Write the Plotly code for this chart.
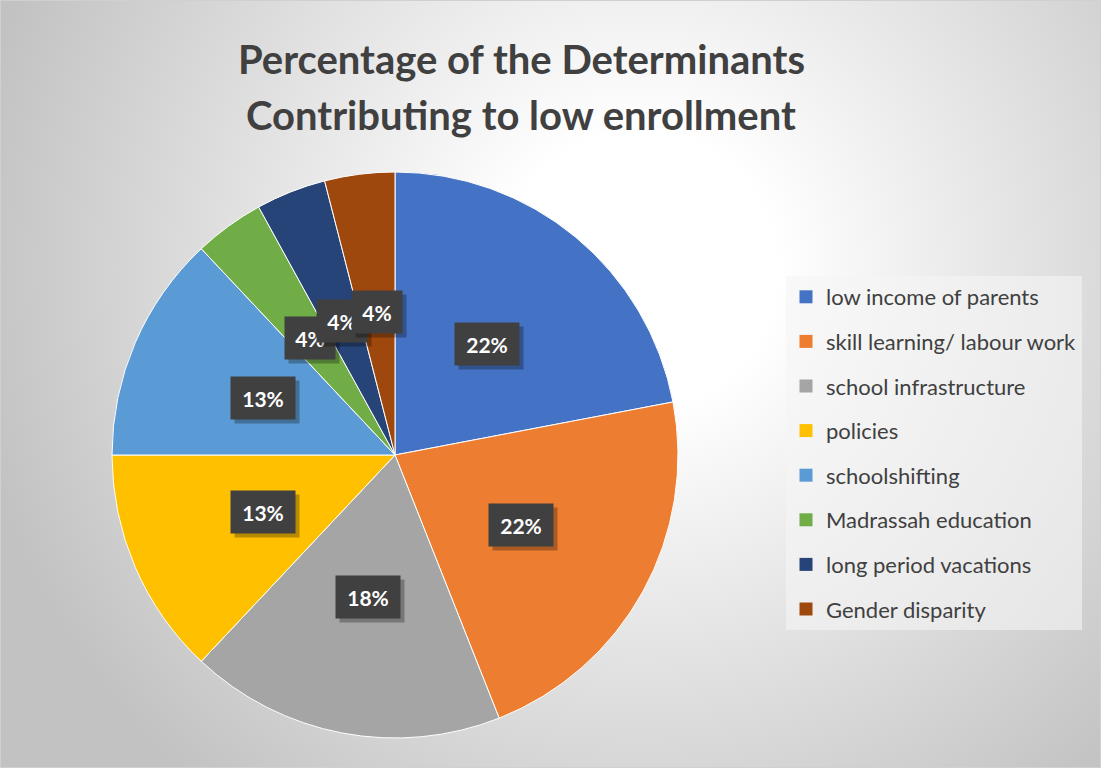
import math, base64
import plotly.graph_objects as go

labels = ["low income of parents", "skill learning/ labour work", "school infrastructure",
          "policies", "schoolshifting", "Madrassah education", "long period vacations",
          "Gender disparity"]
values = [22, 22, 18, 13, 13, 4, 4, 4]
colors = ["#4472C4", "#ED7D31", "#A5A5A5", "#FFC000", "#5B9BD5", "#70AD47", "#264478", "#9E480E"]
title_lines = ["Percentage of the Determinants", "Contributing to low enrollment"]

W, H = 1101, 768
# pie placement (pixels)
CX, CY, R = 395, 455, 283
dom_x = [(CX - R) / W, (CX + R) / W]
dom_y = [1 - (CY + R) / H, 1 - (CY - R) / H]

FONT = "Lato"

fig = go.Figure()
fig.add_trace(go.Pie(
    labels=labels, values=values, sort=False, direction="clockwise", rotation=0,
    marker=dict(colors=colors, line=dict(color="white", width=1)),
    textinfo="none", hoverinfo="label+percent", showlegend=False,
    domain=dict(x=dom_x, y=dom_y),
))

# legend entries via dummy traces (for spacing control)
for lab, col in zip(labels, colors):
    fig.add_trace(go.Scatter(
        x=[None], y=[None], mode="markers", name=lab, legendgroup=lab,
        marker=dict(symbol="square", size=13, color=col),
    ))

# data labels computed from values
total = sum(values)
annotations = []
cum = 0
for v in values:
    mid = (cum + v / 2) / total * 2 * math.pi
    cum += v
    r = 0.51 * R
    px = CX + r * math.sin(mid)
    py = CY - r * math.cos(mid)
    pct = f"{round(100 * v / total)}%"
    bw = 22 + 14 * len(pct)
    common = dict(xref="paper", yref="paper", x=px / W, y=1 - py / H,
                  xanchor="center", yanchor="middle", width=bw, height=42,
                  showarrow=False, borderpad=0)
    annotations.append(dict(text="\u00a0", bgcolor="rgba(0,0,0,0.28)", xshift=4, yshift=-4,
                            font=dict(family=FONT, size=21, color="rgba(0,0,0,0)"),
                            **common))
    annotations.append(dict(text=f"<b>{pct}</b>", bgcolor="#404040",
                            font=dict(family=FONT, size=21, color="white"),
                            **common))

# title lines
for line, ypx in zip(title_lines, [59, 115]):
    annotations.append(dict(text=f"<b>{line}</b>", xref="paper", yref="paper",
                            x=521 / W, y=1 - ypx / H, xanchor="center", yanchor="middle",
                            showarrow=False, font=dict(family=FONT, size=40, color="#404040")))

svg = f'''<svg xmlns="http://www.w3.org/2000/svg" width="{W}" height="{H}">
<defs><radialGradient id="g" gradientUnits="userSpaceOnUse" cx="640" cy="270" r="680">
<stop offset="0" stop-color="#ffffff"/><stop offset="0.2" stop-color="#ffffff"/>
<stop offset="1" stop-color="#c2c2c2"/></radialGradient></defs>
<rect width="{W}" height="{H}" fill="url(#g)"/></svg>'''
src = "data:image/svg+xml;base64," + base64.b64encode(svg.encode()).decode()

fig.update_layout(
    width=W, height=H, margin=dict(l=0, r=0, t=0, b=0),
    paper_bgcolor="white", plot_bgcolor="rgba(0,0,0,0)",
    xaxis=dict(visible=False), yaxis=dict(visible=False),
    images=[dict(source=src, xref="paper", yref="paper", x=0, y=1, sizex=1, sizey=1,
                 sizing="stretch", xanchor="left", yanchor="top", layer="below")],
    annotations=annotations,
    legend=dict(x=786 / W, y=1 - 276 / H, xanchor="left", yanchor="top",
                bgcolor="rgba(245,245,245,0.6)", borderwidth=0,
                font=dict(family=FONT, size=22, color="#404040"),
                traceorder="grouped", tracegroupgap=13, itemclick=False),
    shapes=[dict(type="rect", xref="paper", yref="paper", x0=0, y0=0, x1=1, y1=1,
                 line=dict(color="#d0d0d0", width=2), fillcolor="rgba(0,0,0,0)")],
    hovermode=False,
)

fig.write_html("out.html")
